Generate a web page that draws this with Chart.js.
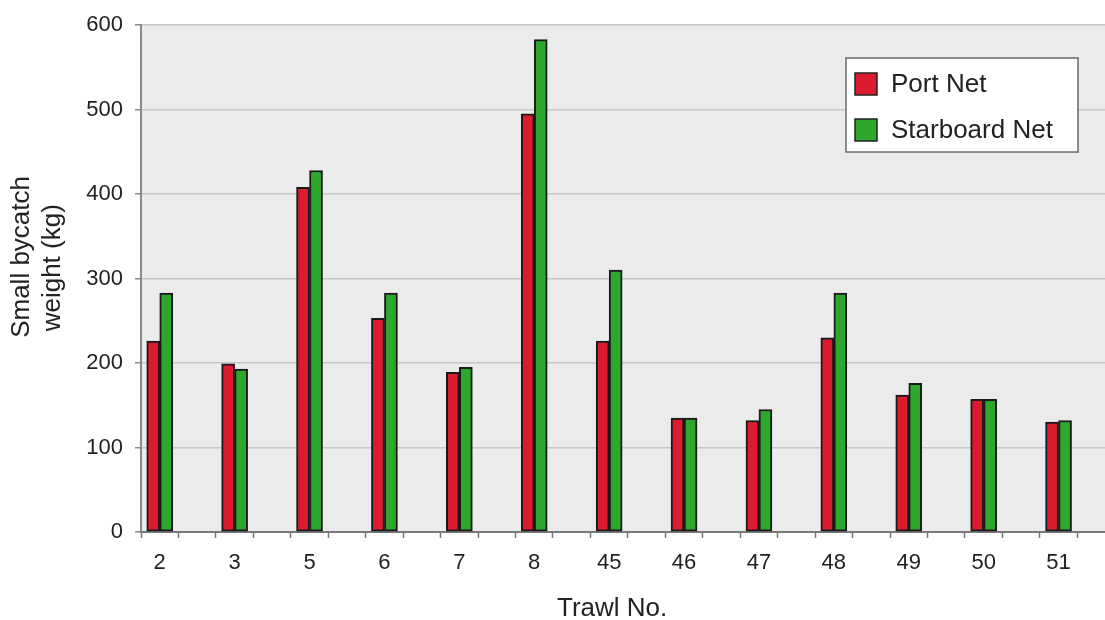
<!DOCTYPE html>
<html>
<head>
<meta charset="utf-8">
<title>Small bycatch weight by trawl</title>
<script src="https://cdn.jsdelivr.net/npm/chart.js@4.4.1/dist/chart.umd.min.js"></script>
<style>
  html, body { margin: 0; padding: 0; background: #ffffff; }
  #wrap { width: 1105px; height: 620px; }
</style>
</head>
<body>
<div id="wrap"><canvas id="chart" width="1105" height="620"></canvas></div>
<script>
// Trawl numbers (categories along the x axis)
const trawls = ['2', '3', '5', '6', '7', '8', '45', '46', '47', '48', '49', '50', '51'];

// Small bycatch weight per net (kg)
const portNet      = [226, 199, 408, 253, 189, 495, 226, 135, 132, 230, 162, 157, 130];
const starboardNet = [283, 193, 428, 283, 195, 583, 310, 135, 145, 283, 176, 157, 132];

// Value-axis tick labels
const yTicks = [0, 100, 200, 300, 400, 500, 600];

const seriesNames  = ['Port Net', 'Starboard Net'];
const seriesColors = ['#dc1b2e', '#2da82d'];

const FONT = '"Liberation Sans", Arial, Helvetica, sans-serif';
const TEXT = '#222222';

// Trawls sit at whole-number positions on a linear axis; the small tick
// marks fall between them, every half step.
const xMin = -0.25, xMax = 12.62;
const xTickValues = [];
for (let v = xMin; v <= xMax + 1e-9; v += 0.5) xTickValues.push(+v.toFixed(2));
trawls.forEach((_, i) => xTickValues.push(i));
xTickValues.sort((a, b) => a - b);

const toPoints = arr => arr.map((y, i) => ({ x: i, y }));

// Grey plotting background
const plotBackground = {
  id: 'plotBackground',
  beforeDraw(chart) {
    const { ctx, chartArea: a } = chart;
    ctx.save();
    ctx.fillStyle = '#ebebeb';
    ctx.fillRect(a.left, a.top, a.right - a.left, a.bottom - a.top);
    ctx.restore();
  }
};

// Boxed legend in the upper right of the plot
const boxedLegend = {
  id: 'boxedLegend',
  afterDraw(chart) {
    const { ctx } = chart;
    const box = { x: 846, y: 58, w: 232, h: 94 };
    ctx.save();
    ctx.fillStyle = '#ffffff';
    ctx.fillRect(box.x, box.y, box.w, box.h);
    ctx.strokeStyle = '#6a6a6a';
    ctx.lineWidth = 1.5;
    ctx.strokeRect(box.x, box.y, box.w, box.h);
    ctx.font = '26px ' + FONT;
    ctx.textBaseline = 'middle';
    ctx.textAlign = 'left';
    chart.data.datasets.forEach((ds, i) => {
      const sy = box.y + 15 + i * 46;
      ctx.fillStyle = ds.backgroundColor;
      ctx.fillRect(box.x + 9, sy, 22, 22);
      ctx.strokeStyle = '#222222';
      ctx.lineWidth = 1.5;
      ctx.strokeRect(box.x + 9, sy, 22, 22);
      ctx.fillStyle = TEXT;
      ctx.fillText(ds.label, box.x + 45, sy + 12);
    });
    ctx.restore();
  }
};

Chart.defaults.font.family = FONT;
Chart.defaults.color = TEXT;

const barStyle = {
  borderColor: '#1a1a1a',
  borderWidth: 2,
  borderSkipped: false,
  barThickness: 13
};

new Chart(document.getElementById('chart'), {
  type: 'bar',
  data: {
    datasets: [
      Object.assign({ label: seriesNames[0], data: toPoints(portNet), backgroundColor: seriesColors[0] }, barStyle),
      Object.assign({ label: seriesNames[1], data: toPoints(starboardNet), backgroundColor: seriesColors[1] }, barStyle)
    ]
  },
  options: {
    responsive: false,
    animation: false,
    devicePixelRatio: 1,
    layout: { padding: { left: 0, right: 0, top: 25, bottom: 0 } },
    plugins: {
      legend: { display: false },
      tooltip: { enabled: false }
    },
    scales: {
      x: {
        type: 'linear',
        min: xMin,
        max: xMax,
        offset: false,
        afterBuildTicks(scale) {
          scale.ticks = xTickValues.map(value => ({ value }));
        },
        afterFit(scale) { scale.height = 88; },
        grid: {
          offset: false,
          drawOnChartArea: false,
          drawTicks: true,
          tickLength: 6,
          tickWidth: 1.5,
          tickColor: c => (c.tick && Number.isInteger(c.tick.value)) ? 'rgba(0,0,0,0)' : '#777777'
        },
        border: { display: true, color: '#7a7a7a', width: 2 },
        ticks: {
          autoSkip: false,
          maxRotation: 0,
          padding: 12,
          font: { size: 22 },
          color: TEXT,
          callback: v => Number.isInteger(v) ? trawls[v] : ''
        },
        title: {
          display: true,
          text: 'Trawl No.   ',
          font: { size: 26, lineHeight: 1 },
          color: TEXT,
          padding: { top: 0, bottom: -2 }
        }
      },
      y: {
        min: yTicks[0],
        max: yTicks[yTicks.length - 1],
        afterBuildTicks(scale) {
          scale.ticks = yTicks.map(value => ({ value }));
        },
        afterFit(scale) { scale.width = 141; },
        grid: {
          color: '#c6c6c6',
          lineWidth: 1.5,
          drawTicks: true,
          tickLength: 6,
          tickColor: '#888888',
          tickWidth: 1.5
        },
        border: { display: true, color: '#8a8a8a', width: 2 },
        ticks: {
          padding: 12,
          font: { size: 22 },
          color: TEXT
        },
        title: {
          display: true,
          text: ['      Small bycatch', '   weight (kg)'],
          font: { size: 26, lineHeight: 1.2 },
          color: TEXT,
          padding: { top: 6, bottom: 0 }
        }
      }
    }
  },
  plugins: [plotBackground, boxedLegend]
});
</script>
</body>
</html>
